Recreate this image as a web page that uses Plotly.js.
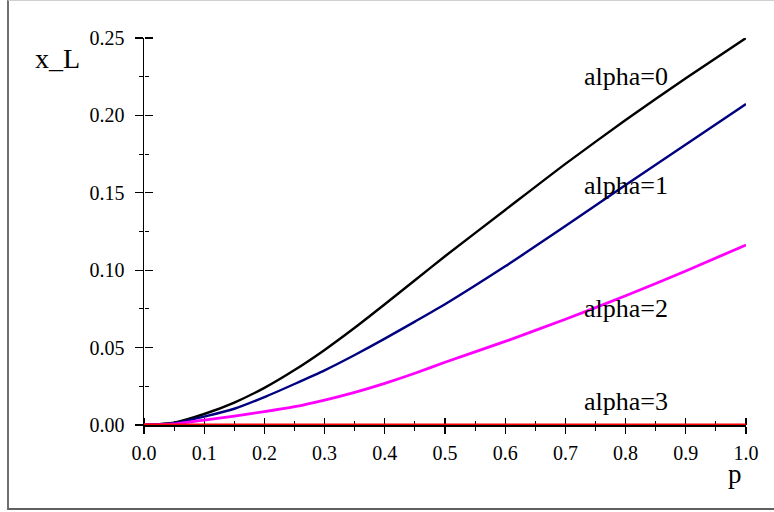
<!DOCTYPE html>
<html>
<head>
<meta charset="utf-8">
<script src="https://cdn.plot.ly/plotly-3.0.1.min.js"></script>
<style>
  html, body { margin: 0; padding: 0; background: #fff; }
  #wrap { position: relative; width: 774px; height: 512px; overflow: hidden; }
  #chart { position: absolute; left: 0; top: 0; width: 774px; height: 512px; }
  #frame { position: absolute; left: 7px; top: 0; width: 800px; height: 510px;
           box-sizing: border-box; border-top: 1px solid #d0d0d0;
           border-left: 2px solid #707070; border-bottom: 2px solid #606060;
           pointer-events: none; }
</style>
</head>
<body>
<div id="wrap">
  <div id="chart"></div>
  <div id="frame"></div>
</div>
<script>
// ---- data ----
const p = [0, 0.05, 0.1, 0.15, 0.2, 0.25, 0.3, 0.35, 0.4, 0.45, 0.5, 0.6, 0.7, 0.8, 0.9, 1.0];
const alpha0 = [0, 0.0015, 0.0071, 0.0145, 0.024, 0.0355, 0.0485, 0.0628, 0.078, 0.0935, 0.109, 0.1389, 0.1687, 0.197, 0.224, 0.25];
const alpha1 = [0, 0.0012, 0.0054, 0.0105, 0.018, 0.0265, 0.0353, 0.0452, 0.0558, 0.0668, 0.078, 0.1025, 0.1285, 0.155, 0.1812, 0.2074];
const alpha2 = [0, 0.0007, 0.0032, 0.0058, 0.0086, 0.0118, 0.0161, 0.0211, 0.0269, 0.0334, 0.0405, 0.054, 0.0683, 0.0835, 0.0995, 0.1163];
const alpha3 = [0, 0, 0, 0, 0, 0, 0, 0, 0, 0, 0, 0, 0, 0, 0, 0];
const seriesNames = ['alpha=0', 'alpha=1', 'alpha=2', 'alpha=3'];
const labelX = [0.8, 0.8, 0.8, 0.8];
const labelY = [0.225, 0.155, 0.075, 0.015];
const xTitle = 'p';
const yTitle = 'x_L';

const FONT = "'Liberation Serif', 'Times New Roman', Times, serif";
const series = [alpha0, alpha1, alpha2, alpha3];
const colors = ['#000000', '#000080', '#ff00ff', '#ff0000'];
const widths = [2.4, 2.4, 2.8, 3.2];

const traces = series.map((ys, i) => ({
  x: p, y: ys, type: 'scatter', mode: 'lines', name: seriesNames[i],
  line: { color: colors[i], width: widths[i], shape: 'spline', smoothing: 0.6 },
  hoverinfo: 'skip', showlegend: false
}));

const annotations = seriesNames.map((t, i) => ({
  x: labelX[i], y: labelY[i], xref: 'x', yref: 'y', text: t, showarrow: false,
  xanchor: 'center', yanchor: 'middle', font: { family: FONT, size: 26, color: '#000' }
}));
annotations.push({
  x: -0.144, y: 0.948, xref: 'paper', yref: 'paper', text: yTitle, showarrow: false,
  xanchor: 'center', yanchor: 'middle', font: { family: FONT, size: 28, color: '#000' }
});
annotations.push({
  x: 0.982, y: -0.127, xref: 'paper', yref: 'paper', text: xTitle, showarrow: false,
  xanchor: 'center', yanchor: 'middle', font: { family: FONT, size: 27, color: '#000' }
});

const common = { showgrid: false, zeroline: false, fixedrange: true, layer: 'below traces' };

const layout = {
  width: 774, height: 512,
  margin: { l: 144, r: 28, t: 38, b: 87, pad: 0 },
  paper_bgcolor: 'rgba(0,0,0,0)', plot_bgcolor: 'rgba(0,0,0,0)',
  showlegend: false,
  xaxis: Object.assign({}, common, {
    range: [0, 1], showline: true, linecolor: '#000', linewidth: 1.5,
    ticks: 'outside', ticklen: 7, tickwidth: 1.3, tickcolor: '#000',
    dtick: 0.1, tick0: 0, tickformat: '.1f',
    minor: { dtick: 0.05, ticks: 'outside', ticklen: 4, tickwidth: 1, tickcolor: '#000' },
    tickfont: { family: FONT, size: 20, color: '#000' }, ticklabelstandoff: 2
  }),
  yaxis: Object.assign({}, common, {
    range: [0, 0.25], showline: true, linecolor: '#000', linewidth: 1.5,
    ticks: 'outside', ticklen: 8, tickwidth: 1.3, tickcolor: '#000',
    dtick: 0.05, tick0: 0, tickformat: '.2f',
    minor: { dtick: 0.025, ticks: 'outside', ticklen: 4, tickwidth: 1, tickcolor: '#000' },
    tickfont: { family: FONT, size: 20, color: '#000' }, ticklabelstandoff: 6
  }),
  // mirror axes at the same place whose "outside" ticks point into the plot
  xaxis2: Object.assign({}, common, {
    overlaying: 'x', anchor: 'free', position: 0, side: 'top', range: [0, 1], showline: false,
    ticks: 'outside', ticklen: 7, tickwidth: 1.3, tickcolor: '#000', dtick: 0.1, tick0: 0,
    minor: { dtick: 0.05, ticks: 'outside', ticklen: 4, tickwidth: 1, tickcolor: '#000' },
    showticklabels: false
  }),
  yaxis2: Object.assign({}, common, {
    overlaying: 'y', anchor: 'free', position: 0, side: 'right', range: [0, 0.25], showline: false,
    ticks: 'outside', ticklen: 8, tickwidth: 1.3, tickcolor: '#000', dtick: 0.05, tick0: 0,
    minor: { dtick: 0.025, ticks: 'outside', ticklen: 4, tickwidth: 1, tickcolor: '#000' },
    showticklabels: false
  }),
  annotations: annotations
};

// invisible helper trace so the mirror axes are drawn
traces.unshift({ x: [0, 1], y: [0, 0], xaxis: 'x2', yaxis: 'y2', type: 'scatter', mode: 'lines',
  line: { color: 'rgba(0,0,0,0)', width: 0 }, hoverinfo: 'skip', showlegend: false });

Plotly.newPlot('chart', traces, layout, { displayModeBar: false, staticPlot: true });
</script>
</body>
</html>
